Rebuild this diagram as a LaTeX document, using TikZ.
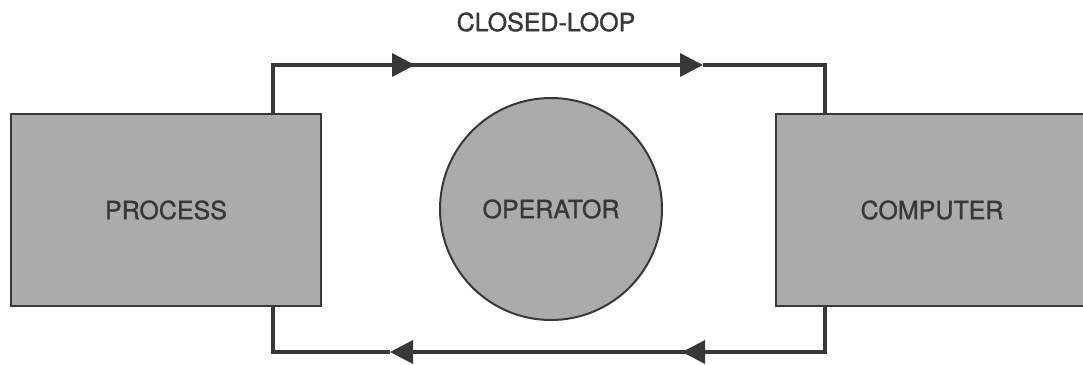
\documentclass[tikz,border=0pt]{standalone}
\usepackage{fontspec}
\setmainfont{TeX Gyre Heros}
\newfontfamily\labelfont{TeX Gyre Heros}[FakeBold=1.2]
\usetikzlibrary{arrows.meta}
\definecolor{ink}{HTML}{383838}
\definecolor{boxfill}{HTML}{ABABAB}
\begin{document}
\begin{tikzpicture}[x=1pt,y=-1pt,
  blockbox/.style={draw=ink, line width=2.5pt, fill=boxfill, rectangle,
    minimum width=310pt, minimum height=192pt, inner sep=0pt, outer sep=0pt,
    text=ink, font=\labelfont\fontsize{25}{30}\selectfont},
  roundbox/.style={draw=ink, line width=2pt, fill=boxfill, circle,
    minimum size=222pt, inner sep=0pt, outer sep=0pt,
    text=ink, font=\labelfont\fontsize{25}{30}\selectfont},
  conn/.style={draw=ink, line width=3.5pt},
  tipped/.style={conn, -{Triangle[length=23pt,width=23pt]}},
  lbl/.style={text=ink, font=\labelfont\fontsize{25}{30}\selectfont, inner sep=0pt}]
\useasboundingbox (0,0) rectangle (1083,364);
\clip (0,0) rectangle (1083,364);
\fill[white] (0,0) rectangle (1083,364);

\node[blockbox] (process) at (166,210) {PROCESS};
\node[blockbox, minimum width=312pt] (computer) at (932,210) {COMPUTER};
\node[roundbox] (operator) at (551,209) {OPERATOR};
\node[lbl] (title) at (546,22) {CLOSED-LOOP};

\coordinate (tl) at (273,65);
\coordinate (tr) at (825,65);
\coordinate (bl) at (273,352);
\coordinate (br) at (825,352);
\coordinate (t1) at (415,65);
\coordinate (t2) at (703,65);
\coordinate (b1) at (682,352);
\coordinate (b2) at (390,352);

% top loop: process -> computer
\draw[conn] (process.north -| tl) -- (tl) -- (t1);
\draw[tipped] (tl) -- (t1);
\draw[tipped] (t1) -- (t2);
\draw[conn] (t2) -- (tr) -- (computer.north -| tr);
% bottom loop: computer -> process
\draw[conn] (computer.south -| br) -- (br) -- (b1);
\draw[tipped] (br) -- (b1);
\draw[tipped] (b1) -- (b2);
\draw[conn] (b2) -- (bl) -- (process.south -| bl);
\end{tikzpicture}
\end{document}
